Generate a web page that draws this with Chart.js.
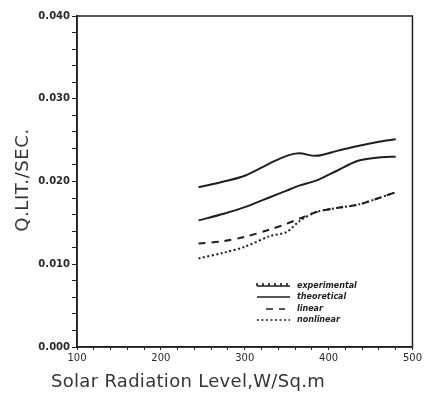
<!DOCTYPE html>
<html>
<head>
<meta charset="utf-8">
<script src="https://cdn.jsdelivr.net/npm/chart.js@4.4.0/dist/chart.umd.min.js"></script>
<style>
  html, body { margin: 0; padding: 0; background: #fff; }
</style>
</head>
<body>
<canvas id="flowChart" width="424" height="400"></canvas>
<script>
  // Solar radiation level (W/Sq.m) and flow rate (lit/sec)
  const radiation    = [245, 275, 300, 330, 350, 365, 385, 410, 435, 460, 480];
  const experimental = [0.0193, 0.0200, 0.0207, 0.0222, 0.0231, 0.0234, 0.0231, 0.0237, 0.0243, 0.0248, 0.0251];
  const theoretical  = [0.0153, 0.0161, 0.0169, 0.0181, 0.0189, 0.0195, 0.0201, 0.0213, 0.0225, 0.0229, 0.0230];
  const linear       = [0.0125, 0.0128, 0.0133, 0.0142, 0.0149, 0.0155, 0.0163, 0.0168, 0.0172, 0.0180, 0.0187];
  const nonlinear    = [0.0107, 0.0114, 0.0121, 0.0134, 0.0139, 0.0152, 0.0163, 0.0168, 0.0172, 0.0180, 0.0187];

  const xTicks = [100, 200, 300, 400, 500];
  const yTicks = [0.000, 0.010, 0.020, 0.030, 0.040];

  const ink = '#1f1f1f';

  function pts(values) {
    return values.map((v, i) => ({ x: radiation[i], y: v }));
  }

  function series(label, values, dash) {
    return {
      label: label,
      data: pts(values),
      borderColor: ink,
      borderWidth: 2,
      borderDash: dash,
      pointRadius: 0,
      tension: 0.3,
      fill: false
    };
  }

  // box around the plot area
  const framePlugin = {
    id: 'frame',
    afterDraw(chart) {
      const { ctx, chartArea: a } = chart;
      ctx.save();
      ctx.strokeStyle = ink;
      ctx.lineWidth = 1.5;
      ctx.strokeRect(a.left, a.top, a.right - a.left, a.bottom - a.top);
      ctx.restore();
    }
  };

  // axis titles
  const titlesPlugin = {
    id: 'titles',
    afterDraw(chart) {
      const ctx = chart.ctx;
      ctx.save();
      ctx.fillStyle = '#353535';
      ctx.textAlign = 'center';
      ctx.textBaseline = 'middle';
      ctx.font = '18px "DejaVu Sans"';
      ctx.letterSpacing = '0.3px';
      ctx.fillText('Solar Radiation Level,W/Sq.m', 188, 382);
      ctx.translate(23, 180);
      ctx.rotate(-Math.PI / 2);
      ctx.font = '18px "DejaVu Sans"';
      ctx.letterSpacing = '0.6px';
      ctx.fillText('Q.LIT./SEC.', 0, 0);
      ctx.restore();
    }
  };

  // legend drawn inside the plot, lower right
  const legendPlugin = {
    id: 'innerLegend',
    afterDraw(chart) {
      const ctx = chart.ctx;
      const rows = [286, 297, 309, 320];
      ctx.save();
      ctx.font = 'italic bold 8px "DejaVu Sans"';
      ctx.textBaseline = 'middle';
      chart.data.datasets.forEach((ds, i) => {
        const y = rows[i];
        ctx.strokeStyle = ink;
        ctx.lineWidth = 1.6;
        ctx.setLineDash(ds.borderDash || []);
        ctx.beginPath();
        ctx.moveTo(i === 2 ? 266 : 257, y);
        ctx.lineTo(i === 2 ? 285 : 290, y);
        ctx.stroke();
        if (i === 0) {
          ctx.setLineDash([]);
          ctx.beginPath();
          for (let x = 257; x <= 290; x += 6) {
            ctx.moveTo(x, y);
            ctx.lineTo(x, y - 3);
          }
          ctx.stroke();
        }
        ctx.setLineDash([]);
        ctx.fillStyle = ink;
        ctx.fillText(ds.label, 297, y);
      });
      ctx.restore();
    }
  };

  const isTick = (list, v, eps) => list.some(t => Math.abs(t - v) < eps);

  new Chart(document.getElementById('flowChart'), {
    type: 'line',
    data: {
      datasets: [
        series('experimental', experimental, []),
        series('theoretical', theoretical, []),
        series('linear', linear, [7, 6]),
        series('nonlinear', nonlinear, [2, 2.5])
      ]
    },
    options: {
      responsive: false,
      animation: false,
      devicePixelRatio: 1,
      layout: { padding: { top: 16, right: 11, left: 0, bottom: 0 } },
      plugins: { legend: { display: false }, tooltip: { enabled: false } },
      scales: {
        x: {
          type: 'linear',
          min: 100,
          max: 500,
          afterFit(scale) { scale.height = 53; },
          ticks: {
            stepSize: 20,
            autoSkip: false,
            maxRotation: 0,
            padding: 2,
            color: '#2a2a2a',
            font: { family: 'DejaVu Sans', size: 10 },
            callback: v => isTick(xTicks, v, 1e-6) ? String(v) : ''
          },
          grid: { drawOnChartArea: false, tickLength: 3, tickColor: ink },
          border: { color: ink, width: 1.5 }
        },
        y: {
          min: 0,
          max: 0.04,
          afterFit(scale) { scale.width = 77; },
          ticks: {
            stepSize: 0.002,
            autoSkip: false,
            padding: 2,
            color: '#2a2a2a',
            font: { family: 'DejaVu Sans', size: 10, weight: 'bold' },
            callback: v => isTick(yTicks, v, 1e-9) ? v.toFixed(3) : ''
          },
          grid: { drawOnChartArea: false, tickLength: 5, tickColor: ink },
          border: { color: ink, width: 1.5 }
        }
      }
    },
    plugins: [framePlugin, titlesPlugin, legendPlugin]
  });
</script>
</body>
</html>
